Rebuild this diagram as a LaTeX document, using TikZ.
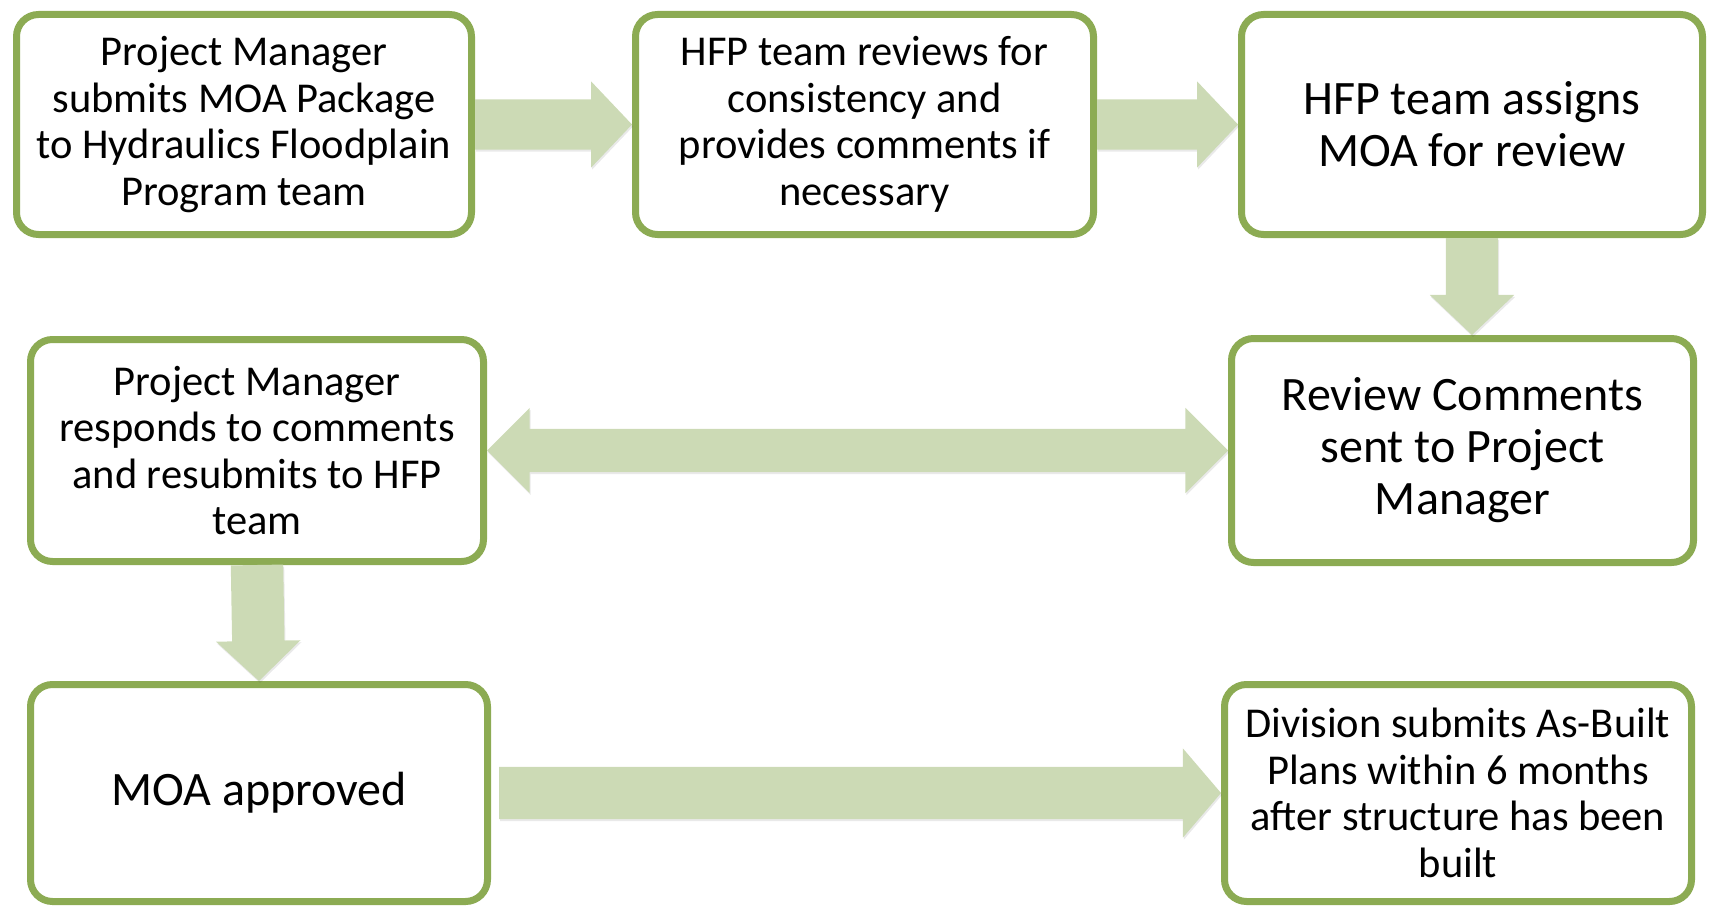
\documentclass[tikz,border=0pt]{standalone}
\usepackage{fontspec}
\setmainfont{Carlito}
\usetikzlibrary{shapes.arrows,calc,shadows}
\definecolor{bordergreen}{RGB}{140,171,83}
\definecolor{arrowgreen}{RGB}{204,218,181}
\newcommand\blockarr[4]{%
  \path let \p1=(#3), \p2=(#4), \n1={veclen(\x2-\x1,\y2-\y1)}, \n2={atan2(\y2-\y1,\x2-\x1)} in
    node[#1, minimum height=\n1, rotate=\n2, anchor=tail] (#2) at (\p1) {};}
\newcommand\dblockarr[4]{%
  \path let \p1=(#3), \p2=(#4), \n1={veclen(\x2-\x1,\y2-\y1)}, \n2={atan2(\y2-\y1,\x2-\x1)} in
    node[#1, minimum height=\n1, rotate=\n2] (#2) at ($(\p1)!0.5!(\p2)$) {};}
\begin{document}
\begin{tikzpicture}[x=1pt,y=-1pt,
  box/.style={draw=bordergreen, line width=7pt, fill=white, rounded corners=22pt,
    align=center, inner sep=0pt,
    drop shadow={shadow xshift=1.5pt, shadow yshift=-3pt, opacity=0.25, fill=black!70}},
  txtA/.style={font=\fontsize{42.5}{46.5}\selectfont},
  txtB/.style={font=\fontsize{48}{52}\selectfont},
  arrbase/.style={fill=arrowgreen, inner xsep=0pt, draw=none, outer sep=0pt,
    drop shadow={shadow xshift=1pt, shadow yshift=-2pt, opacity=0.12, fill=black!70}},
  harr/.style={arrbase, single arrow, single arrow head indent=0pt},
  darr/.style={arrbase, double arrow, double arrow head indent=0pt}
]
\useasboundingbox (0,0) rectangle (1709,907);

\node[box, txtA, minimum width=455pt, minimum height=220pt] (b1) at (244,124.5)
  {Project Manager\\submits MOA Package\\to Hydraulics Floodplain\\Program team};
\node[box, txtA, minimum width=458pt, minimum height=220pt] (b2) at (864.5,124.5)
  {HFP team reviews for\\consistency and\\provides comments if\\necessary};
\node[box, txtB, minimum width=461pt, minimum height=220pt] (b3) at (1472,124.5)
  {HFP team assigns\\MOA for review};
\node[box, txtB, minimum width=462pt, minimum height=224pt] (b4) at (1462.5,450.5)
  {Review Comments\\sent to Project\\Manager};
\node[box, txtA, minimum width=453pt, minimum height=222pt] (b5) at (257,450.5)
  {Project Manager\\responds to comments\\and resubmits to HFP\\team};
\node[box, txtB, minimum width=457pt, minimum height=217pt] (b6) at (259,793)
  {MOA approved};
\node[box, txtA, minimum width=467pt, minimum height=217pt] (b7) at (1458,793)
  {Division submits As-Built\\Plans within 6 months\\after structure has been\\built};

\blockarr{harr, inner ysep=25pt, single arrow head extend=18pt, single arrow tip angle=93}{a1}{b1.east}{b2.west}
\blockarr{harr, inner ysep=25pt, single arrow head extend=18pt, single arrow tip angle=93}{a2}{b2.east}{b3.west}
\blockarr{harr, inner ysep=26pt, single arrow head extend=16pt, single arrow tip angle=93}{a3}{b3.south}{b3.south |- b4.north}
\dblockarr{darr, inner ysep=21.5pt, double arrow head extend=21pt, double arrow tip angle=90}{a4}{b5.east}{b4.west}
\blockarr{harr, inner ysep=26pt, single arrow head extend=16pt, single arrow tip angle=93}{a5}{b5.south}{b6.north}
\coordinate (s6) at ($(b6.east)+(8,0)$);
\blockarr{harr, inner ysep=26pt, single arrow head extend=18.5pt, single arrow tip angle=99}{a6}{s6}{b7.west}
\end{tikzpicture}
\end{document}
